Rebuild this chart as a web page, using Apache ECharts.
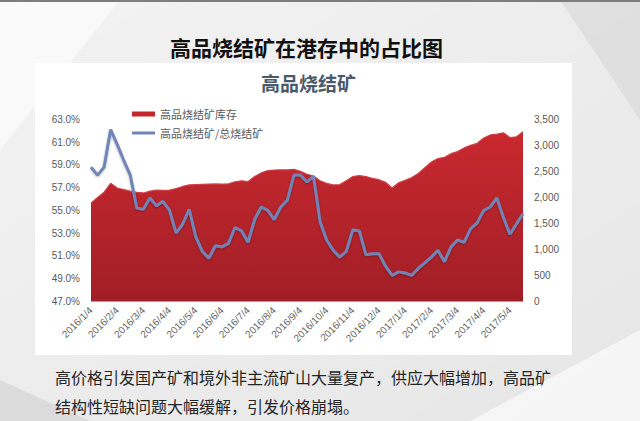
<!DOCTYPE html>
<html>
<head>
<meta charset="utf-8">
<script src="https://cdn.jsdelivr.net/npm/echarts@6/dist/echarts.min.js"></script>
<style>
html,body{margin:0;padding:0;background:#ececec;}
#c{width:640px;height:421px;}
</style>
</head>
<body>
<div id="c"></div>
<script>
// ---- data ----
const chartTitle = '高品烧结矿在港存中的占比图';
const chartSubtitle = '高品烧结矿';
const seriesNames = ['高品烧结矿库存', '高品烧结矿/总烧结矿'];
const noteLines = [
  '高价格引发国产矿和境外非主流矿山大量复产，供应大幅增加，高品矿',
  '结构性短缺问题大幅缓解，引发价格崩塌。'
];
const labelDays = [4, 11, 18, 25];   // four points per month, the first one labelled
const pointCount = 67;                // 2016/1/4 ... 2017/5/18
const categories = [];
for (let y = 2016, m = 1; categories.length < pointCount; ) {
  for (const d of labelDays) {
    if (categories.length < pointCount) categories.push(y + '/' + m + '/' + d);
  }
  m++; if (m > 12) { m = 1; y++; }
}
// share of high-grade sinter in total sinter (%), left axis
const shareValues = [
  58.8, 58.1, 58.8, 62.1, 60.8, 59.4, 58.1, 55.2, 55.1, 56.1,
  55.4, 55.8, 55.0, 53.0, 53.8, 55.1, 52.7, 51.4, 50.8, 51.9,
  51.8, 52.1, 53.5, 53.2, 52.2, 54.2, 55.3, 55.0, 54.2, 55.3,
  55.9, 58.1, 58.1, 57.5, 58.0, 54.0, 52.4, 51.5, 50.9, 51.4,
  53.3, 53.2, 51.1, 51.2, 51.2, 50.1, 49.3, 49.6, 49.5, 49.3,
  49.9, 50.4, 50.9, 51.5, 50.5, 51.8, 52.4, 52.2, 53.4, 53.9,
  55.0, 55.3, 56.1, 54.4, 52.9, 53.8, 54.7
];
// high-grade sinter inventory, right axis
const inventoryValues = [
  1890, 2000, 2100, 2270, 2180, 2150, 2120, 2095, 2085, 2120,
  2140, 2135, 2140, 2170, 2210, 2240, 2245, 2250, 2255, 2258,
  2255, 2260, 2300, 2320, 2305, 2400, 2470, 2515, 2525, 2530,
  2530, 2540, 2500, 2445, 2410, 2320, 2270, 2240, 2245, 2320,
  2400, 2420, 2400, 2365, 2340, 2290, 2180, 2280, 2330, 2380,
  2460, 2570, 2680, 2745, 2770, 2840, 2880, 2950, 3000, 3040,
  3140, 3200, 3215, 3240, 3150, 3165, 3262
];
const leftTicks = {min: 47, max: 63, interval: 2};
const rightTicks = {min: 0, max: 3500, interval: 500};

// ---- chart ----
const chart = echarts.init(document.getElementById('c'), null, {renderer: 'svg'});
const labelColor = '#595959';
const numFont = 'Liberation Sans';
const cjkFont = 'Noto Sans CJK SC';
const legendText = {fontSize: 11, color: labelColor, fontFamily: cjkFont, lineHeight: 14};

const option = {
  animation: false,
  backgroundColor: {
    type: 'linear', x: 0, y: 0, x2: 1, y2: 1,
    colorStops: [{offset: 0, color: '#f3f3f3'}, {offset: 1, color: '#e6e6e6'}]
  },
  graphic: [
    {type: 'polygon', z: -10, shape: {points: [[0, 0], [120, 0], [0, 150]]}, style: {fill: 'rgba(255,255,255,0.55)'}},
    {type: 'polygon', z: -10, shape: {points: [[560, 0], [640, 0], [640, 120]]}, style: {fill: 'rgba(200,200,200,0.35)'}},
    {type: 'polygon', z: -10, shape: {points: [[0, 380], [90, 421], [0, 421]]}, style: {fill: 'rgba(190,190,190,0.35)'}},
    {type: 'polygon', z: -10, shape: {points: [[470, 421], [640, 330], [640, 421]]}, style: {fill: 'rgba(255,255,255,0.6)'}},
    {type: 'rect', z: -10, shape: {x: 0, y: 0, width: 640, height: 2}, style: {fill: '#7d7d7d'}},
    {type: 'rect', z: -9, shape: {x: 35, y: 63, width: 537, height: 292}, style: {fill: '#ffffff'}},
    {type: 'text', z: 10, x: 55, y: 377, style: {text: noteLines[0], fontSize: 16, fontFamily: cjkFont, fill: '#262626', verticalAlign: 'middle'}},
    {type: 'text', z: 10, x: 55, y: 406, style: {text: noteLines[1], fontSize: 16, fontFamily: cjkFont, fill: '#262626', verticalAlign: 'middle'}}
  ],
  title: [
    {text: chartTitle, left: 165, top: 31, textStyle: {fontSize: 21, fontWeight: 'bold', color: '#111', fontFamily: cjkFont}},
    {text: chartSubtitle, left: 256, top: 68, textStyle: {fontSize: 19, fontWeight: 'bold', color: '#4b5a6b', fontFamily: cjkFont}}
  ],
  legend: [
    {
      left: 132, top: 107, padding: 0,
      itemWidth: 23, itemHeight: 5,
      textStyle: legendText,
      data: [{name: seriesNames[0], icon: 'rect'}]
    },
    {
      left: 132, top: 126, padding: 0,
      itemWidth: 23, itemHeight: 3,
      textStyle: legendText,
      data: [{name: seriesNames[1], icon: 'rect'}]
    }
  ],
  grid: {left: 91, right: 117, top: 119.3, bottom: 119.5},
  xAxis: {
    type: 'category', boundaryGap: false, data: categories,
    axisLine: {show: false}, axisTick: {show: false},
    axisLabel: {
      interval: (i) => i % 4 === 0, rotate: 45, margin: 7,
      fontSize: 10, color: '#666666', fontFamily: numFont
    }
  },
  yAxis: [
    {
      type: 'value', position: 'left', min: leftTicks.min, max: leftTicks.max, interval: leftTicks.interval,
      axisLine: {show: false}, axisTick: {show: false}, splitLine: {show: false},
      axisLabel: {formatter: (v) => v.toFixed(1) + '%', fontSize: 10, color: labelColor, fontFamily: numFont, margin: 11}
    },
    {
      type: 'value', position: 'right', min: rightTicks.min, max: rightTicks.max, interval: rightTicks.interval,
      axisLine: {show: false}, axisTick: {show: false}, splitLine: {show: false},
      axisLabel: {formatter: (v) => v.toLocaleString('en-US'), fontSize: 10, color: labelColor, fontFamily: numFont, margin: 11}
    }
  ],
  series: [
    {
      name: seriesNames[0], type: 'line', yAxisIndex: 1, data: inventoryValues,
      symbol: 'none', z: 2, color: '#c3262d',
      lineStyle: {width: 1.2, color: '#cf4148'},
      areaStyle: {
        opacity: 1,
        color: {type: 'linear', x: 0, y: 0, x2: 0, y2: 1,
          colorStops: [{offset: 0, color: '#c9292f'}, {offset: 1, color: '#a11e26'}]}
      }
    },
    {
      name: seriesNames[1], type: 'line', yAxisIndex: 0, data: shareValues,
      symbol: 'none', z: 3, color: '#6f84b8',
      lineStyle: {width: 3, color: '#6f84b8', shadowColor: 'rgba(0,0,0,0.3)', shadowBlur: 2, shadowOffsetY: 1}
    }
  ]
};
chart.setOption(option);
</script>
</body>
</html>
